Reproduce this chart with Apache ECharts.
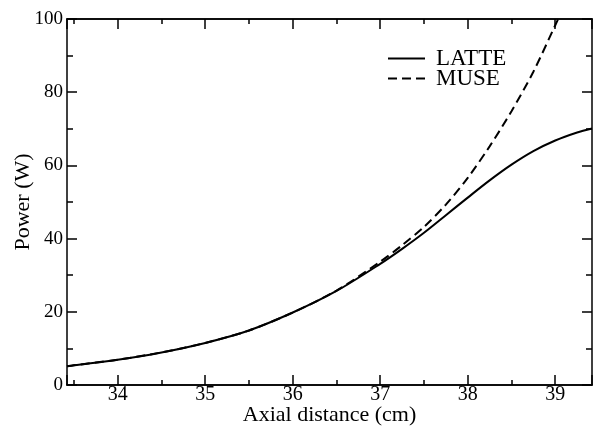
<!DOCTYPE html>
<html>
<head>
<meta charset="utf-8">
<script src="https://cdn.jsdelivr.net/npm/echarts@6/dist/echarts.min.js"></script>
<style>
  html, body { margin: 0; padding: 0; background: #fff; }
  #main { width: 594px; height: 427px; }
</style>
</head>
<body>
<div id="main"></div>
<script>
// values
const xLatte = [33.42, 33.5, 34, 34.5, 35, 35.5, 36, 36.5, 37, 37.25, 37.5, 37.75, 38, 38.25, 38.5, 38.75, 39, 39.25, 39.42];
const yLatte = [5.1, 5.4, 6.9, 8.9, 11.5, 14.9, 19.8, 25.7, 33.1, 37.2, 41.6, 46.4, 51.2, 55.9, 60.2, 63.9, 66.8, 69.0, 70.1];

const xMuse = [33.42, 33.5, 34, 34.5, 35, 35.5, 36, 36.5, 37, 37.25, 37.5, 37.75, 38, 38.25, 38.5, 38.75, 39, 39.05];
const yMuse = [5.1, 5.4, 6.9, 8.9, 11.5, 14.9, 19.8, 25.8, 33.7, 38.2, 43.2, 49.3, 56.6, 65.2, 74.8, 85.6, 98.3, 100.9];

const xMin = 33.42, xMax = 39.42;
const yTicks = [0, 20, 40, 60, 80, 100];

const FONT = 'Liberation Serif';
const pair = (xs, ys) => xs.map((x, i) => [x, ys[i]]);

const chart = echarts.init(document.getElementById('main'));

const lineAxis = { show: true, lineStyle: { color: '#000', width: 1.5 } };

function xAx(pos, split, len, labels, extra) {
  return Object.assign({
    type: 'value', position: pos, min: xMin, max: xMax, splitNumber: split,
    axisLine: lineAxis,
    axisTick: { inside: true, length: len, lineStyle: { color: '#000', width: 1.5 } },
    axisLabel: labels ? {
      color: '#000', fontFamily: FONT, fontSize: 20, margin: 0,
      formatter: v => Number.isInteger(v) ? String(v) : ''
    } : { show: false },
    splitLine: { show: false }
  }, extra || {});
}

function yAx(pos, labels, extra) {
  return Object.assign({
    type: 'value', position: pos, min: yTicks[0], max: yTicks[yTicks.length - 1], interval: 20,
    axisLine: lineAxis,
    axisTick: { inside: true, length: 10, lineStyle: { color: '#000', width: 1.5 } },
    minorTick: { show: true, splitNumber: 2, length: 6, lineStyle: { color: '#000', width: 1.5 } },
    axisLabel: labels ? { color: '#000', fontFamily: FONT, fontSize: 19, margin: 4 } : { show: false },
    splitLine: { show: false }
  }, extra || {});
}

chart.setOption({
  animation: false,
  grid: { left: 67, right: 2, top: 19, bottom: 42, outerBoundsMode: 'none' },
  legend: {
    orient: 'vertical', left: 387, top: 47, padding: 0, itemGap: -3,
    itemWidth: 37, itemHeight: 14,
    itemStyle: { opacity: 0 },
    textStyle: { color: '#000', fontFamily: FONT, fontSize: 23, lineHeight: 20, padding: [0, 0, 0, 6] },
    data: ['LATTE', 'MUSE']
  },
  xAxis: [
    xAx('bottom', 6, 10, true, {
      name: 'Axial distance (cm)', nameLocation: 'middle', nameGap: 19, nameMoveOverlap: false,
      nameTextStyle: { color: '#000', fontFamily: FONT, fontSize: 22 }
    }),
    xAx('bottom', 12, 5, false),
    xAx('top', 6, 10, false),
    xAx('top', 12, 5, false)
  ],
  yAxis: [
    yAx('left', true, {
      name: 'Power (W)', nameLocation: 'middle', nameGap: 33, nameRotate: 90, nameMoveOverlap: false,
      nameTextStyle: { color: '#000', fontFamily: FONT, fontSize: 22 }
    }),
    yAx('right', false)
  ],
  series: [
    {
      name: 'MUSE', type: 'line', data: pair(xMuse, yMuse), smooth: 0.3, symbol: 'none',
      lineStyle: { color: '#000', width: 2, type: [9, 5] }, itemStyle: { color: '#000' }
    },
    {
      name: 'LATTE', type: 'line', data: pair(xLatte, yLatte), smooth: 0.3, symbol: 'none',
      lineStyle: { color: '#000', width: 2 }, itemStyle: { color: '#000' }
    }
  ]
});
</script>
</body>
</html>
